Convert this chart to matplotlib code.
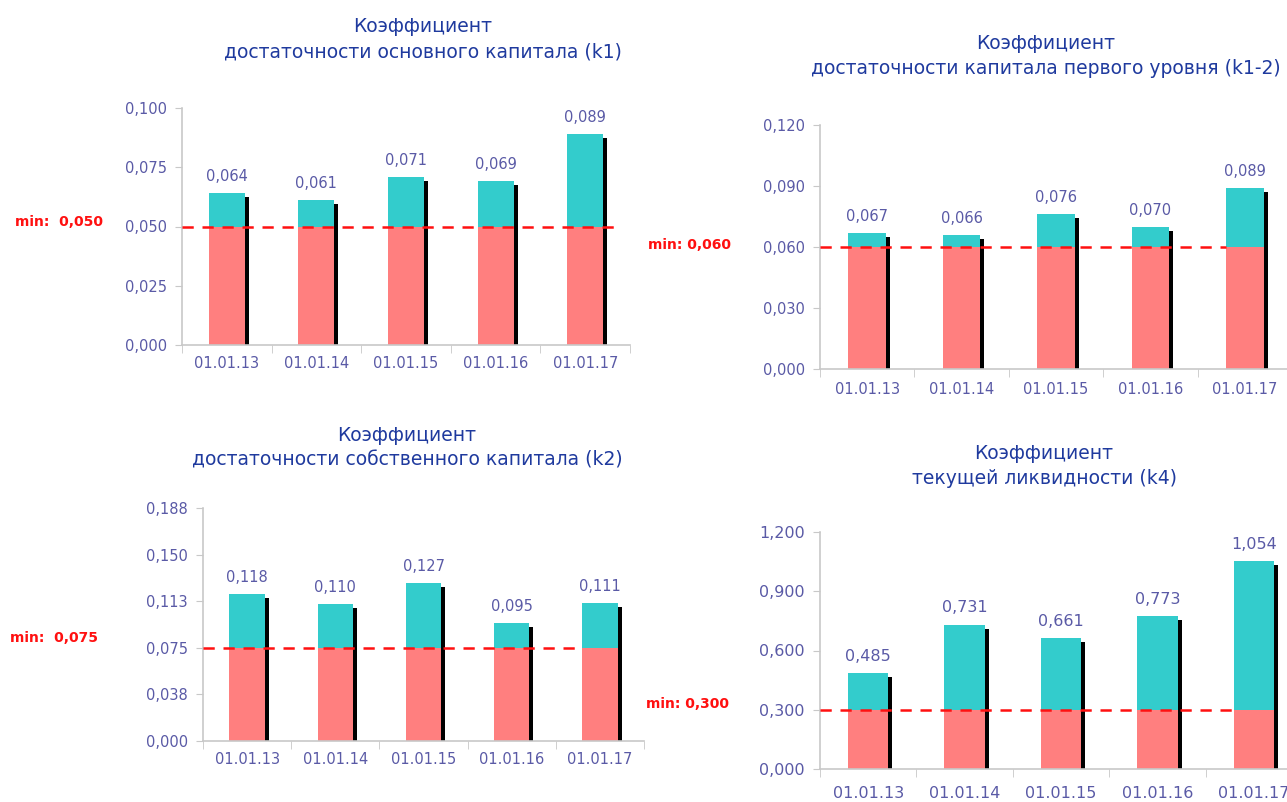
import matplotlib
matplotlib.use("Agg")
import matplotlib.pyplot as plt
import matplotlib.transforms as mtrans
import numpy as np

# ---------------- data ----------------
dates = ["01.01.13", "01.01.14", "01.01.15", "01.01.16", "01.01.17"]

k1_values = [0.064, 0.061, 0.071, 0.069, 0.089]
k1_min = 0.050
k1_ticks = [0.0, 0.025, 0.050, 0.075, 0.100]
k1_ticklabels = ["0,000", "0,025", "0,050", "0,075", "0,100"]
k1_title = "Коэффициент\nдостаточности основного капитала (k1)"
k1_minlabel = "min:  0,050"

k12_values = [0.067, 0.066, 0.076, 0.070, 0.089]
k12_min = 0.060
k12_ticks = [0.0, 0.030, 0.060, 0.090, 0.120]
k12_ticklabels = ["0,000", "0,030", "0,060", "0,090", "0,120"]
k12_title = "Коэффициент\nдостаточности капитала первого уровня (k1-2)"
k12_minlabel = "min: 0,060"

k2_values = [0.118, 0.110, 0.127, 0.095, 0.111]
k2_min = 0.075
k2_ticks = [0.0, 0.0375, 0.075, 0.1125, 0.150, 0.1875]
k2_ticklabels = ["0,000", "0,038", "0,075", "0,113", "0,150", "0,188"]
k2_title = "Коэффициент\nдостаточности собственного капитала (k2)"
k2_minlabel = "min:  0,075"

k4_values = [0.485, 0.731, 0.661, 0.773, 1.054]
k4_min = 0.300
k4_ticks = [0.0, 0.300, 0.600, 0.900, 1.200]
k4_ticklabels = ["0,000", "0,300", "0,600", "0,900", "1,200"]
k4_title = "Коэффициент\nтекущей ликвидности (k4)"
k4_minlabel = "min: 0,300"

# ---------------- style ----------------
W, H = 1287, 802
PINK = "#FF7F7F"
CYAN = "#33CCCC"
TITLE_C = "#1F3A9E"
TICK_C = "#5A5AA6"
GRID_C = "#C8C8C8"
RED = "#FF1010"

fig = plt.figure(figsize=(W / 100, H / 100), dpi=100)
fig.patch.set_facecolor("white")


def px_axes(x0, x1, ytop, ybot):
    return fig.add_axes([x0 / W, 1 - ybot / H, (x1 - x0) / W, (ybot - ytop) / H])


def fmt(v):
    return f"{v:.3f}".replace(".", ",")


def panel(rect, values, thr, ticks, ticklabels, title, title_xy, minlabel, min_xy,
          bar_w, dash_end, fs=10.5, xpad=8):
    ax = px_axes(*rect)
    x = np.arange(len(dates))
    vals = np.array(values)
    # shadow
    shadow_tr = ax.transData + mtrans.ScaledTranslation(4 / 100, -4 / 100, fig.dpi_scale_trans)
    sb = ax.bar(x, vals, width=bar_w, color="black", zorder=1)
    for p in sb:
        p.set_transform(shadow_tr)
    ax.bar(x, [thr] * len(x), width=bar_w, color=PINK, zorder=2)
    ax.bar(x, vals - thr, bottom=thr, width=bar_w, color=CYAN, zorder=2)
    ax.plot([-0.5, dash_end], [thr, thr], color=RED, lw=1.8, ls=(0, (4.5, 3.5)), zorder=3)
    for xi, v in zip(x, vals):
        ax.annotate(fmt(v), (xi, v), xytext=(0, 12), textcoords="offset points",
                    ha="center", va="center", fontsize=fs, color=TICK_C)
    ax.set_xlim(-0.5, len(dates) - 0.5)
    ax.set_ylim(ticks[0], ticks[-1])
    ax.set_yticks(ticks)
    ax.set_yticklabels(ticklabels)
    ax.set_xticks(x)
    ax.set_xticklabels(dates)
    ax.set_xticks(np.arange(len(dates) + 1) - 0.5, minor=True)
    ax.tick_params(axis="x", which="major", length=0, pad=xpad, labelsize=fs, labelcolor=TICK_C)
    ax.tick_params(axis="x", which="minor", length=6, color=GRID_C)
    ax.tick_params(axis="y", length=5, color=GRID_C, labelsize=fs, labelcolor=TICK_C, pad=6)
    for s in ["top", "right"]:
        ax.spines[s].set_visible(False)
    for s in ["left", "bottom"]:
        ax.spines[s].set_color(GRID_C)
        ax.spines[s].set_linewidth(1.2)
    ax.set_facecolor("none")
    fig.text(title_xy[0] / W, 1 - title_xy[1] / H, title, ha="center", va="center",
             multialignment="center", fontsize=13.5, color=TITLE_C, linespacing=1.4)
    fig.text(min_xy[0] / W, 1 - min_xy[1] / H, minlabel, ha="left", va="center",
             fontsize=10, color=RED, fontweight="bold")
    return ax


panel((182, 630, 108, 345), k1_values, k1_min, k1_ticks, k1_ticklabels, k1_title,
      (423, 39), k1_minlabel, (15, 222), 0.40, 4.4)
panel((820, 1292, 125, 369), k12_values, k12_min, k12_ticks, k12_ticklabels, k12_title,
      (1046, 56), k12_minlabel, (648, 245), 0.40, 3.8, fs=10.5, xpad=9)
panel((203, 644, 508, 741), k2_values, k2_min, k2_ticks, k2_ticklabels, k2_title,
      (407, 448), k2_minlabel, (10, 638), 0.40, 3.8)
panel((820, 1302, 532, 769), k4_values, k4_min, k4_ticks, k4_ticklabels, k4_title,
      (1044, 466), k4_minlabel, (646, 704), 0.42, 3.8, fs=11.5, xpad=12)

fig.savefig("out.png", dpi=100, facecolor="white")
